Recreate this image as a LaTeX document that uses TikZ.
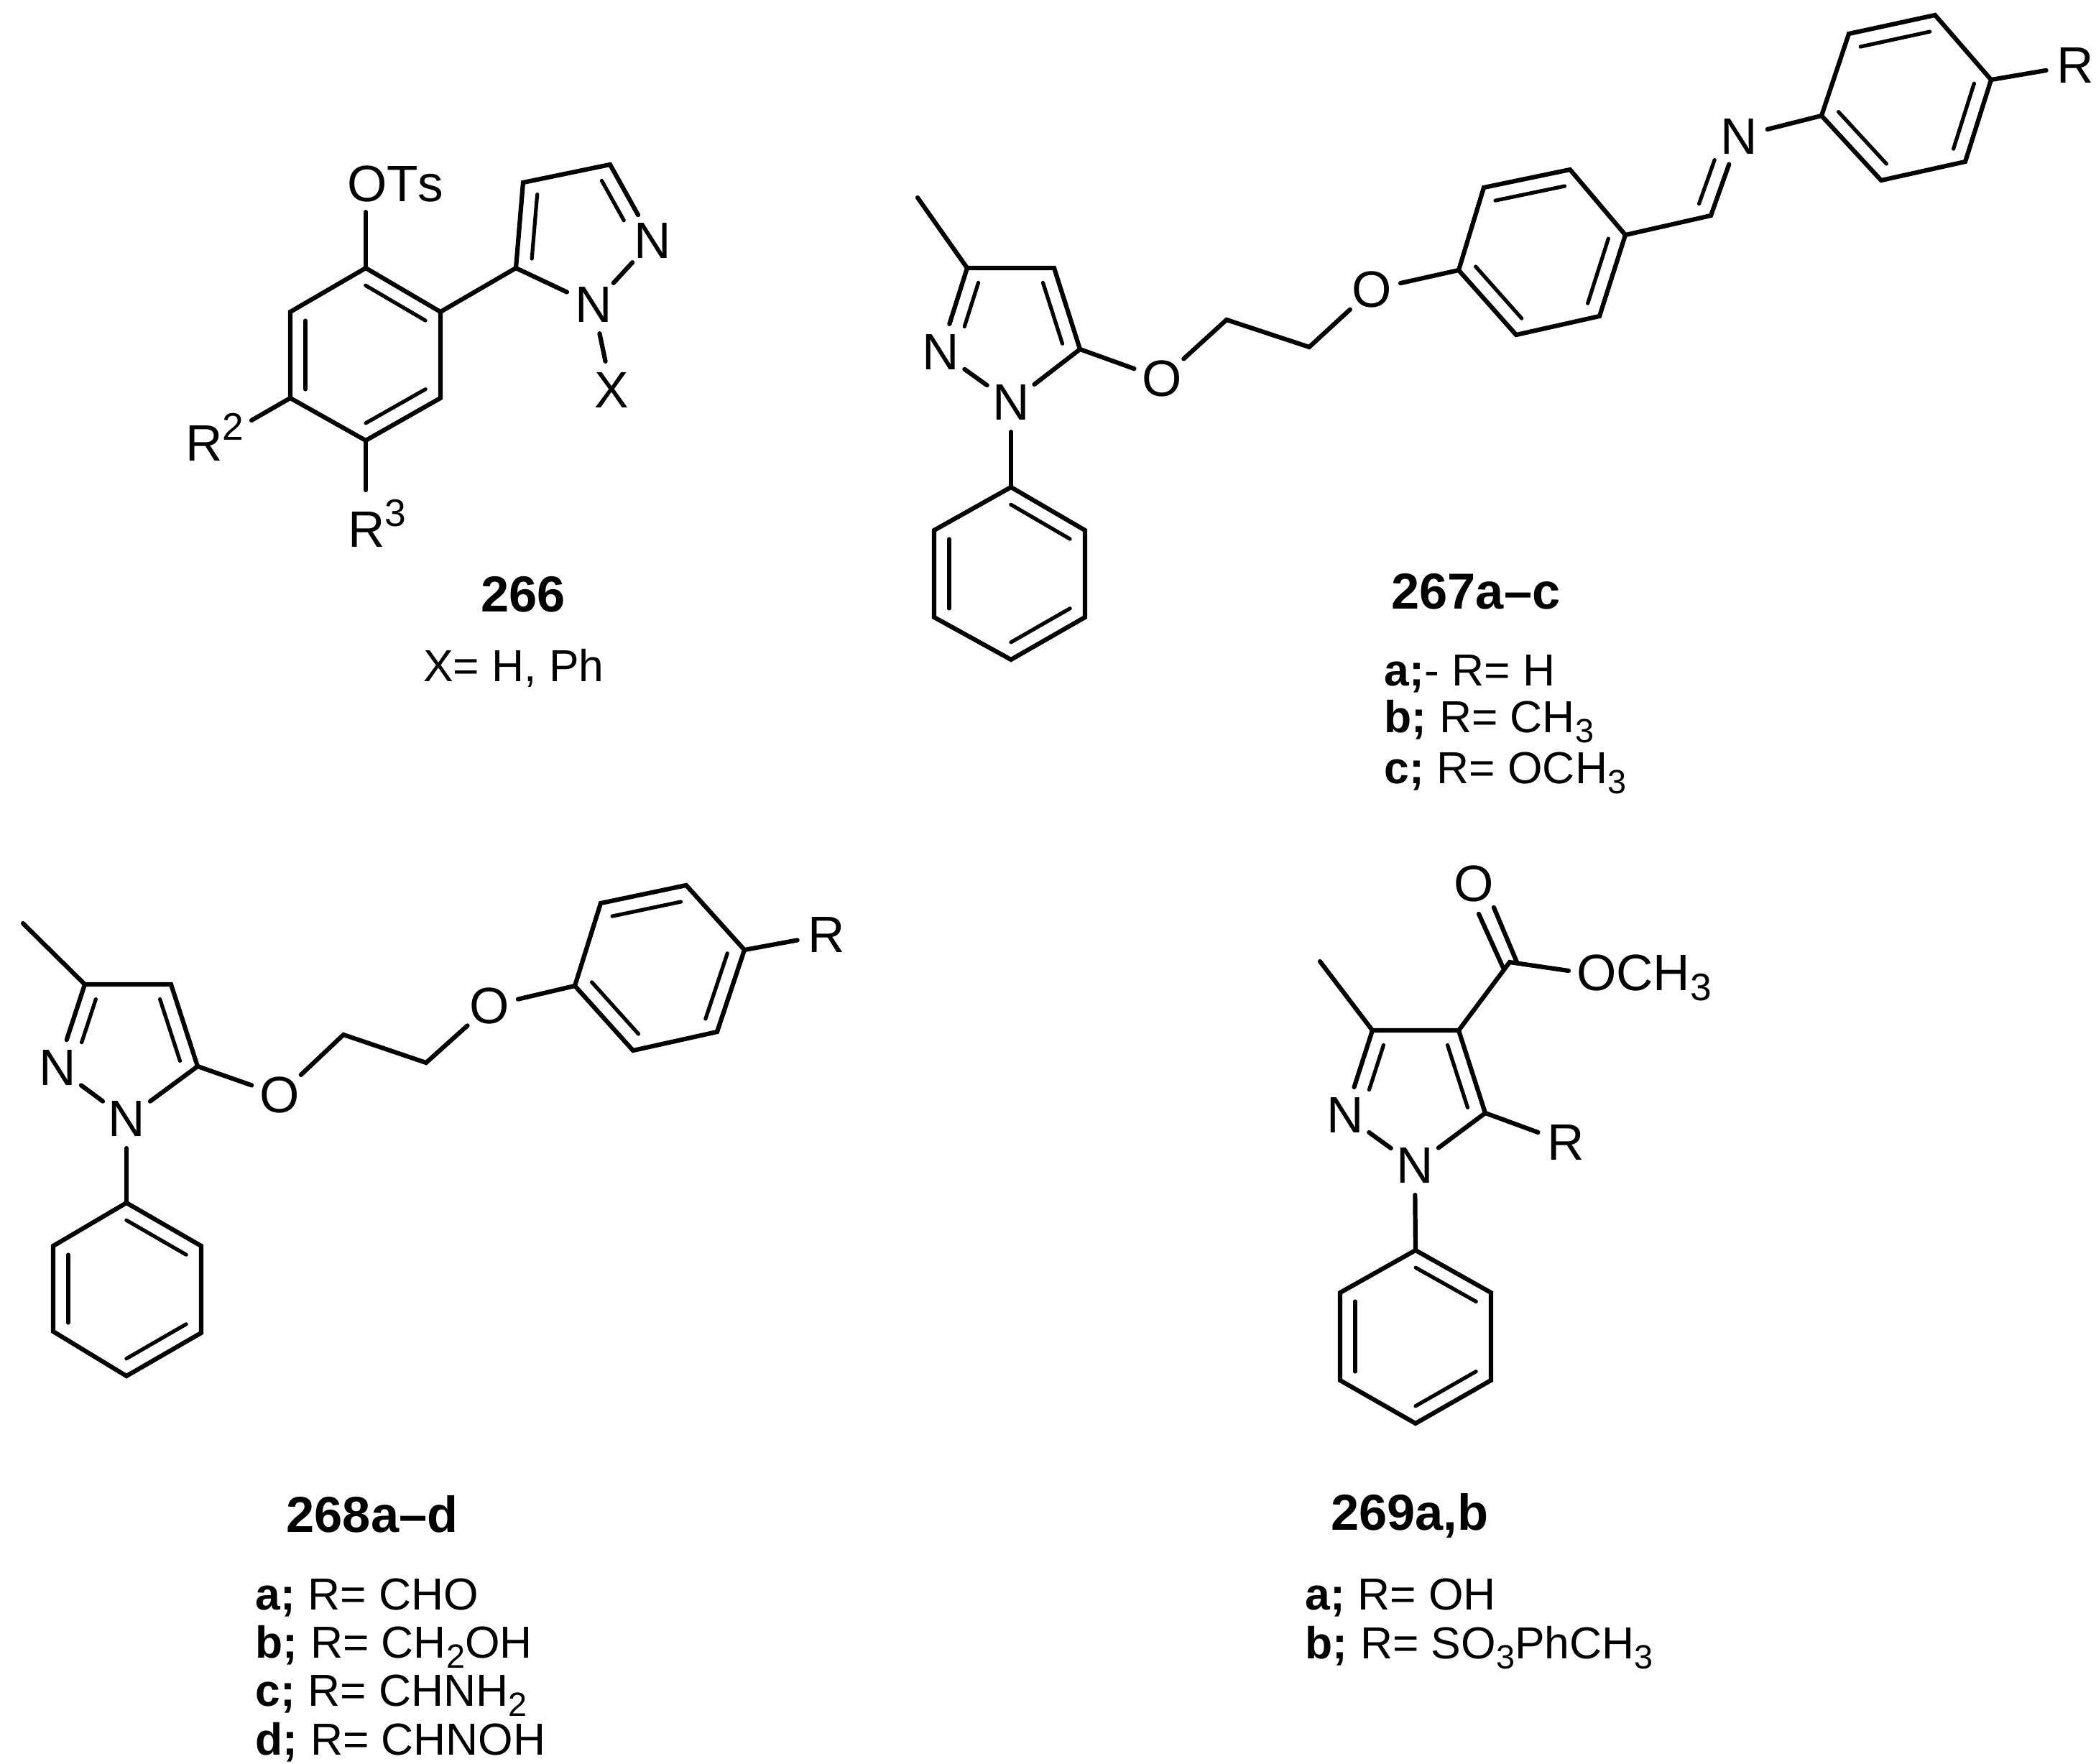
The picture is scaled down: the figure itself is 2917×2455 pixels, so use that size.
\documentclass[tikz,border=0pt]{standalone}
\usepackage{fontspec}
\setmainfont{Liberation Sans}[Kerning=Off]
\usetikzlibrary{calc}
\newcommand\csub[1]{\raisebox{-3.6pt}{\scalebox{.75}{#1}}}
\newcommand\csup[1]{\raisebox{7.2pt}{\scalebox{.75}{#1}}}
% inner line of a double bond: from a to b, kept s1/s2 from the ends, on side #5
\newcommand\ib[5]{\draw[innerbond] ($(#1)!#3!(#2)!5.25pt!#5:(#2)$) -- ($(#2)!#4!(#1)!5.25pt!-#5:(#1)$);}
\tikzset{
  bond/.style={line width=1.55pt,line join=miter,line cap=round,black},
  innerbond/.style={line width=1.3pt,line cap=round,black},
  atom/.style={circle,minimum size=20.5pt,inner sep=0pt,outer sep=0pt,font=\fontsize{17.8}{19}\selectfont},
  grp/.style={anchor=base west,inner sep=0pt,outer sep=0pt,font=\fontsize{17.8}{19}\selectfont},
  cpd/.style={inner sep=0pt,font=\fontsize{17.6}{19}\selectfont\bfseries},
  lab/.style={anchor=base west,inner sep=0pt,font=\fontsize{15.6}{17}\selectfont},
}
\begin{document}
\begin{tikzpicture}[x=0.25pt,y=-0.25pt]
\useasboundingbox (0,0) rectangle (2917,2455);
\fill[white] (0,0) rectangle (2917,2455);

% ---------- 266 ----------
\foreach \n/\p in {a1/{509,373},a2/{613,434},a3/{613,554},a4/{509,613},a5/{404,554},a6/{404,434},
  ac5/{718,373},ac4/{728,254},ac3/{849,229},aotsb/{509,295},ar2b/{350,585},ar3b/{509,682}}
  {\coordinate (\n) at (\p);}
\node[grp] (aots) at (483,280) {OTs};
\node[grp] (ar2) at (258,641) {R\csup{2}};
\node[grp] (ar3) at (484,761) {R\csup{3}};
\node[atom] (an2) at (908,335) {N};
\node[atom] (an1) at (826,424) {N};
\node[atom] (ax) at (851,543) {X};
\draw[bond] (a1)--(a2)--(a3)--(a4)--(a5)--(a6)--cycle;
\ib{a1}{a2}{3pt}{3pt}{-90}\ib{a3}{a4}{3pt}{3pt}{-90}\ib{a5}{a6}{3pt}{3pt}{-90}
\draw[bond] (a1)--(aotsb);
\draw[bond] (a5)--(ar2b);
\draw[bond] (a4)--(ar3b);
\draw[bond] (a2)--(ac5);
\draw[bond] (an1)--(ac5)--(ac4)--(ac3)--(an2);
\draw[bond] (an2)--(an1);
\draw[bond] (an1)--(ax);
\ib{ac5}{ac4}{3.7pt}{3.7pt}{-90}
\ib{ac3}{an2}{3.5pt}{11pt}{-90}
\node[cpd] (t266) at (728,827) {266};
\node[font=\fontsize{15.6}{17}\selectfont,inner sep=0pt] (x266) at (715,930) {X= H, Ph};

% ---------- 267 ----------
\foreach \n/\p in {bme/{1277,275},bc3/{1346,373},bc4/{1467,373},bc5/{1503,486},
  bp1/{1407,678},bp2/{1510,738},bp3/{1510,859},bp4/{1407,918},bp5/{1300,859},bp6/{1300,738},
  bch1/{1707,445},bch2/{1822,483},
  bv1/{2030,376},bv2/{2065,261},bv3/{2185,236},bv4/{2262,327},bv5/{2226,440},bv6/{2110,466},
  bim/{2381,300},
  bw1/{2535,161},bw2/{2573,47},bw3/{2693,21},bw4/{2771,111},bw5/{2735,225},bw6/{2618,251}}
  {\coordinate (\n) at (\p);}
\node[atom] (bn2) at (1309,490) {N};
\node[atom] (bn1) at (1407,560) {N};
\node[atom] (bo1) at (1617,527) {O};
\node[atom] (bo2) at (1909,403) {O};
\node[atom] (bn3) at (2420,190) {N};
\node[atom] (br) at (2888,91) {R};
\draw[bond] (bme)--(bc3);
\draw[bond] (bn2)--(bc3)--(bc4)--(bc5)--(bn1);
\draw[bond] (bn2)--(bn1);
\ib{bn2}{bc3}{11pt}{3.7pt}{-90}\ib{bc4}{bc5}{3.7pt}{3.7pt}{-90}
\draw[bond] (bn1)--(bp1);
\draw[bond] (bp1)--(bp2)--(bp3)--(bp4)--(bp5)--(bp6)--cycle;
\ib{bp1}{bp2}{3pt}{3pt}{-90}\ib{bp3}{bp4}{3pt}{3pt}{-90}\ib{bp5}{bp6}{3pt}{3pt}{-90}
\draw[bond] (bc5)--(bo1);
\draw[bond] (bo1)--(bch1)--(bch2)--(bo2);
\draw[bond] (bo2)--(bv1);
\draw[bond] (bv1)--(bv2)--(bv3)--(bv4)--(bv5)--(bv6)--cycle;
\ib{bv2}{bv3}{3pt}{3pt}{-90}\ib{bv4}{bv5}{3pt}{3pt}{-90}\ib{bv6}{bv1}{3pt}{3pt}{-90}
\draw[bond] (bv4)--(bim)--(bn3);
\ib{bim}{bn3}{2.5pt}{10.5pt}{90}
\draw[bond] (bn3)--(bw1);
\draw[bond] (bw1)--(bw2)--(bw3)--(bw4)--(bw5)--(bw6)--cycle;
\ib{bw2}{bw3}{3pt}{3pt}{-90}\ib{bw4}{bw5}{3pt}{3pt}{-90}\ib{bw6}{bw1}{3pt}{3pt}{-90}
\draw[bond] (bw4)--(br);
\node[cpd] (t267) at (2054,823) {267a–c};
\node[lab] (l267a) at (1926,954) {\textbf{a;}- R= H};
\node[lab] (l267b) at (1926,1019) {\textbf{b;} R= CH\csub{3}};
\node[lab] (l267c) at (1926,1090) {\textbf{c;} R= OCH\csub{3}};

% ---------- 268 ----------
\foreach \n/\p in {cme/{32,1285},cc3/{118,1370},cc4/{238,1370},cc5/{275,1484},
  cp1/{176,1674},cp2/{280,1734},cp3/{280,1855},cp4/{176,1915},cp5/{74,1853},cp6/{74,1734},
  cch1/{478,1440},cch2/{593,1479},
  cr1/{800,1372},cr2/{836,1257},cr3/{955,1232},cr4/{1036,1322},cr5/{998,1436},cr6/{881,1462}}
  {\coordinate (\n) at (\p);}
\node[atom] (cn2) at (80,1486) {N};
\node[atom] (cn1) at (176,1557) {N};
\node[atom] (co1) at (389,1524) {O};
\node[atom] (co2) at (681,1400) {O};
\node[atom] (crr) at (1150,1301) {R};
\draw[bond] (cme)--(cc3);
\draw[bond] (cn2)--(cc3)--(cc4)--(cc5)--(cn1);
\draw[bond] (cn2)--(cn1);
\ib{cn2}{cc3}{11pt}{3.7pt}{-90}\ib{cc4}{cc5}{3.7pt}{3.7pt}{-90}
\draw[bond] (cn1)--(cp1);
\draw[bond] (cp1)--(cp2)--(cp3)--(cp4)--(cp5)--(cp6)--cycle;
\ib{cp1}{cp2}{3pt}{3pt}{-90}\ib{cp3}{cp4}{3pt}{3pt}{-90}\ib{cp5}{cp6}{3pt}{3pt}{-90}
\draw[bond] (cc5)--(co1);
\draw[bond] (co1)--(cch1)--(cch2)--(co2);
\draw[bond] (co2)--(cr1);
\draw[bond] (cr1)--(cr2)--(cr3)--(cr4)--(cr5)--(cr6)--cycle;
\ib{cr2}{cr3}{3pt}{3pt}{-90}\ib{cr4}{cr5}{3pt}{3pt}{-90}\ib{cr6}{cr1}{3pt}{3pt}{-90}
\draw[bond] (cr4)--(crr);
\node[cpd] (t268) at (518,2107) {268a–d};
\node[lab] (l268a) at (355,2240) {\textbf{a;} R= CHO};
\node[lab] (l268b) at (355,2307) {\textbf{b;} R= CH\csub{2}OH};
\node[lab] (l268c) at (355,2374) {\textbf{c;} R= CHNH\csub{2}};
\node[lab] (l268d) at (355,2442) {\textbf{d;} R= CHNOH};

% ---------- 269 ----------
\foreach \n/\p in {dme/{1837,1338},dc3/{1910,1434},dc4/{2030,1434},dc5/{2067,1549},
  dp1/{1970,1740},dp2/{2075,1799},dp3/{2075,1921},dp4/{1970,1981},dp5/{1865,1921},dp6/{1865,1799},
  dc/{2101,1339},dca/{2111,1339},dcb/{2092,1347},doa/{2079,1263},dob/{2058,1272},dob1/{2183,1351}}
  {\coordinate (\n) at (\p);}
\node[atom] (dn2) at (1872,1552) {N};
\node[atom] (dn1) at (1969,1622) {N};
\node[atom] (drr) at (2179,1590) {R};
\node[atom] (do) at (2051,1230) {O};
\node[grp] (dome) at (2194,1378) {OCH\csub{3}};
\draw[bond] (dme)--(dc3);
\draw[bond] (dn2)--(dc3)--(dc4)--(dc5)--(dn1);
\draw[bond] (dn2)--(dn1);
\ib{dn2}{dc3}{11pt}{3.7pt}{-90}\ib{dc4}{dc5}{3.7pt}{3.7pt}{-90}
\draw[bond] (dc5)--(drr);
\draw[bond] (dn1)--(dp1);
\draw[bond] (dp1)--(dp2)--(dp3)--(dp4)--(dp5)--(dp6)--cycle;
\ib{dp1}{dp2}{3pt}{3pt}{-90}\ib{dp3}{dp4}{3pt}{3pt}{-90}\ib{dp5}{dp6}{3pt}{3pt}{-90}
\draw[bond] (dc4)--(dc)--(dob1);
\draw[bond] (dca)--(doa);
\draw[bond] (dcb)--(dob);
\node[cpd] (t269) at (1962,2109) {269a,b};
\node[lab] (l269a) at (1816,2240) {\textbf{a;} R= OH};
\node[lab] (l269b) at (1816,2308) {\textbf{b;} R= SO\csub{3}PhCH\csub{3}};
\end{tikzpicture}
\end{document}
